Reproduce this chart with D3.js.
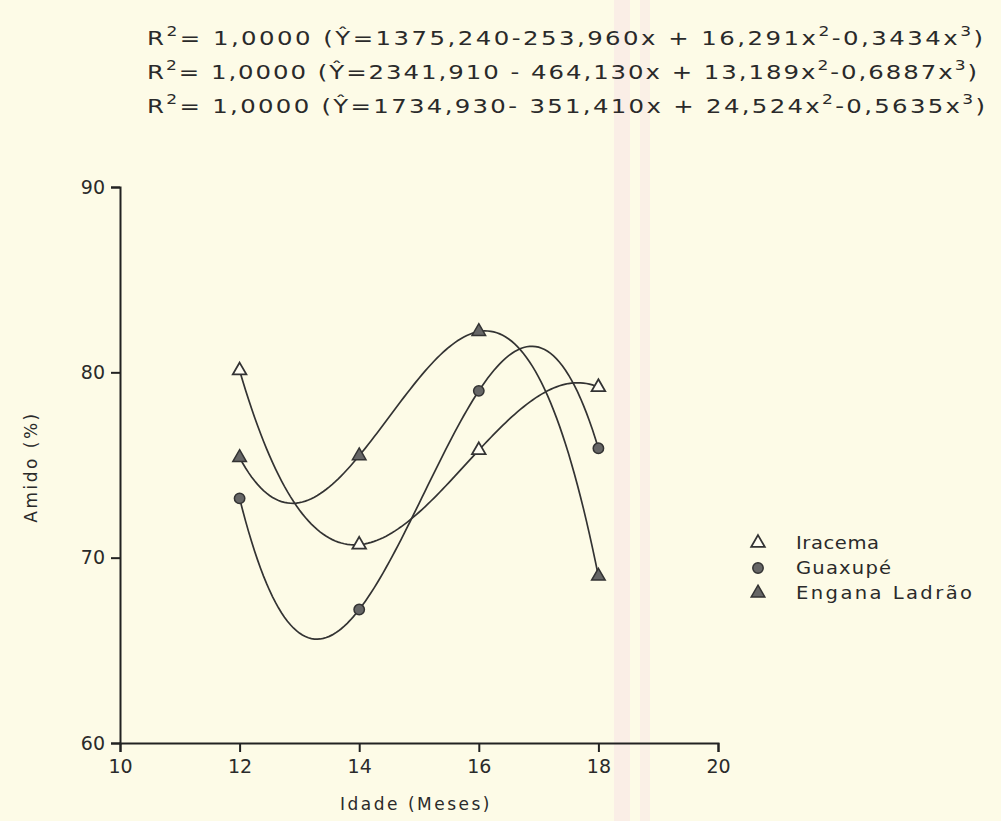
<!DOCTYPE html>
<html>
<head>
<meta charset="utf-8">
<script src="https://cdn.jsdelivr.net/npm/d3@7"></script>
<style>
  html, body { margin: 0; padding: 0; background: #fdfbe7; }
  svg { display: block; }
  text { font-family: "DejaVu Sans", sans-serif; fill: #2a2a2a; }
</style>
</head>
<body>
<svg id="chart" width="1001" height="821"></svg>
<script>
// ---- Data ----
const ages = [12, 14, 16, 18];
const iracema = [80.1, 70.7, 75.8, 79.2];
const guaxupe = [73.2, 67.2, 79.0, 75.9];
const enganaLadrao = [75.4, 75.5, 82.2, 69.0];
const seriesNames = ["Iracema", "Guaxupé", "Engana Ladrão"];
const xTicks = [10, 12, 14, 16, 18, 20];
const yTicks = [60, 70, 80, 90];
const equations = [
  ["1375,240-253,960x + 16,291x", "-0,3434x"],
  ["2341,910 - 464,130x + 13,189x", "-0,6887x"],
  ["1734,930- 351,410x + 24,524x", "-0,5635x"]
];

const series = [
  { name: seriesNames[0], values: iracema, symbol: "open" },
  { name: seriesNames[1], values: guaxupe, symbol: "circle" },
  { name: seriesNames[2], values: enganaLadrao, symbol: "filled" }
];

const svg = d3.select("#chart");
const W = 1001, H = 821;

// scan-like background
svg.append("rect").attr("width", W).attr("height", H).attr("fill", "#fdfbe7");
svg.append("rect").attr("x", 614).attr("y", 0).attr("width", 16).attr("height", H).attr("fill", "#f9ebe6").attr("opacity", 0.8);
svg.append("rect").attr("x", 640).attr("y", 0).attr("width", 10).attr("height", H).attr("fill", "#f8ebe6").attr("opacity", 0.7);

const x = d3.scaleLinear().domain([10, 20]).range([120, 718]);
const y = d3.scaleLinear().domain([60, 90]).range([743, 187]);

// Axes
const xAxis = d3.axisBottom(x).tickValues(xTicks).tickSize(9).tickSizeOuter(9).tickPadding(8);
const yAxis = d3.axisLeft(y).tickValues(yTicks).tickSize(9).tickSizeOuter(9).tickPadding(6);

const gx = svg.append("g").attr("transform", `translate(0,${y(60)})`).call(xAxis);
const gy = svg.append("g").attr("transform", `translate(${x(10)},0)`).call(yAxis);
[gx, gy].forEach(g => {
  g.selectAll("path, line").attr("stroke", "#222").attr("stroke-width", 2);
  g.selectAll("text").style("font-size", "19px").attr("fill", "#2a2a2a");
});

// axis titles
svg.append("text").attr("x", 416).attr("y", 810).attr("text-anchor", "middle")
  .style("font-size", "17px").style("letter-spacing", "2.5px").text("Idade (Meses)");
svg.append("text").attr("transform", `translate(37,${y(75) + 2}) rotate(-90)`).attr("text-anchor", "middle")
  .style("font-size", "17px").style("letter-spacing", "2.5px").text("Amido (%)");

// cubic through the 4 observed points (R² = 1 regression curve)
function cubicAt(xs, ys, t) {
  let s = 0;
  for (let i = 0; i < xs.length; i++) {
    let l = 1;
    for (let j = 0; j < xs.length; j++) if (j !== i) l *= (t - xs[j]) / (xs[i] - xs[j]);
    s += ys[i] * l;
  }
  return s;
}
const line = d3.line().x(d => x(d[0])).y(d => y(d[1]));
const grid = d3.range(ages[0], ages[ages.length - 1] + 0.001, 0.05);
series.forEach(s => {
  svg.append("path")
    .attr("d", line(grid.map(t => [t, cubicAt(ages, s.values, t)])))
    .attr("fill", "none").attr("stroke", "#333").attr("stroke-width", 1.7);
});

// markers
const tri = d3.symbol().type(d3.symbolTriangle).size(80);
const circ = d3.symbol().type(d3.symbolCircle).size(85);
function drawMarker(g, sym, cx, cy) {
  if (sym === "open") {
    g.append("path").attr("d", tri()).attr("transform", `translate(${cx},${cy})`)
      .attr("fill", "#fffdf2").attr("stroke", "#333").attr("stroke-width", 1.8);
  } else if (sym === "circle") {
    g.append("path").attr("d", circ()).attr("transform", `translate(${cx},${cy})`)
      .attr("fill", "#666").attr("stroke", "#333").attr("stroke-width", 1.5);
  } else {
    g.append("path").attr("d", tri()).attr("transform", `translate(${cx},${cy})`)
      .attr("fill", "#666").attr("stroke", "#333").attr("stroke-width", 1.5);
  }
}
const gm = svg.append("g");
series.forEach(s => {
  s.values.forEach((v, i) => drawMarker(gm, s.symbol, x(ages[i]), y(v)));
});

// legend
const lg = svg.append("g");
const legendWidths = [83, 95, 176];
const lScale = 1.15;
series.forEach((s, i) => {
  const ly = 543 + i * 25;
  drawMarker(lg, s.symbol, 758, ly);
  lg.append("g").attr("transform", `translate(796,${ly + 6}) scale(${lScale},1)`)
    .append("text").attr("x", 0).attr("y", 0).style("font-size", "17px")
    .attr("textLength", legendWidths[i] / lScale).attr("lengthAdjust", "spacing").text(s.name);
});

// equations
const eqY = [45, 79, 113];
const eqWidths = [836, 830, 838];
const eScale = 1.22;
equations.forEach((eq, i) => {
  const t = svg.append("g").attr("transform", `translate(147,${eqY[i]}) scale(${eScale},1)`)
    .append("text").attr("x", 0).attr("y", 0).style("font-size", "20px")
    .attr("textLength", eqWidths[i] / eScale).attr("lengthAdjust", "spacing");
  t.append("tspan").text("R");
  t.append("tspan").attr("dy", -9).style("font-size", "14px").text("2");
  t.append("tspan").attr("dy", 9).text("= 1,0000  (Ŷ=" + eq[0]);
  t.append("tspan").attr("dy", -9).style("font-size", "14px").text("2");
  t.append("tspan").attr("dy", 9).text(eq[1]);
  t.append("tspan").attr("dy", -9).style("font-size", "14px").text("3");
  t.append("tspan").attr("dy", 9).text(")");
});
</script>
</body>
</html>
